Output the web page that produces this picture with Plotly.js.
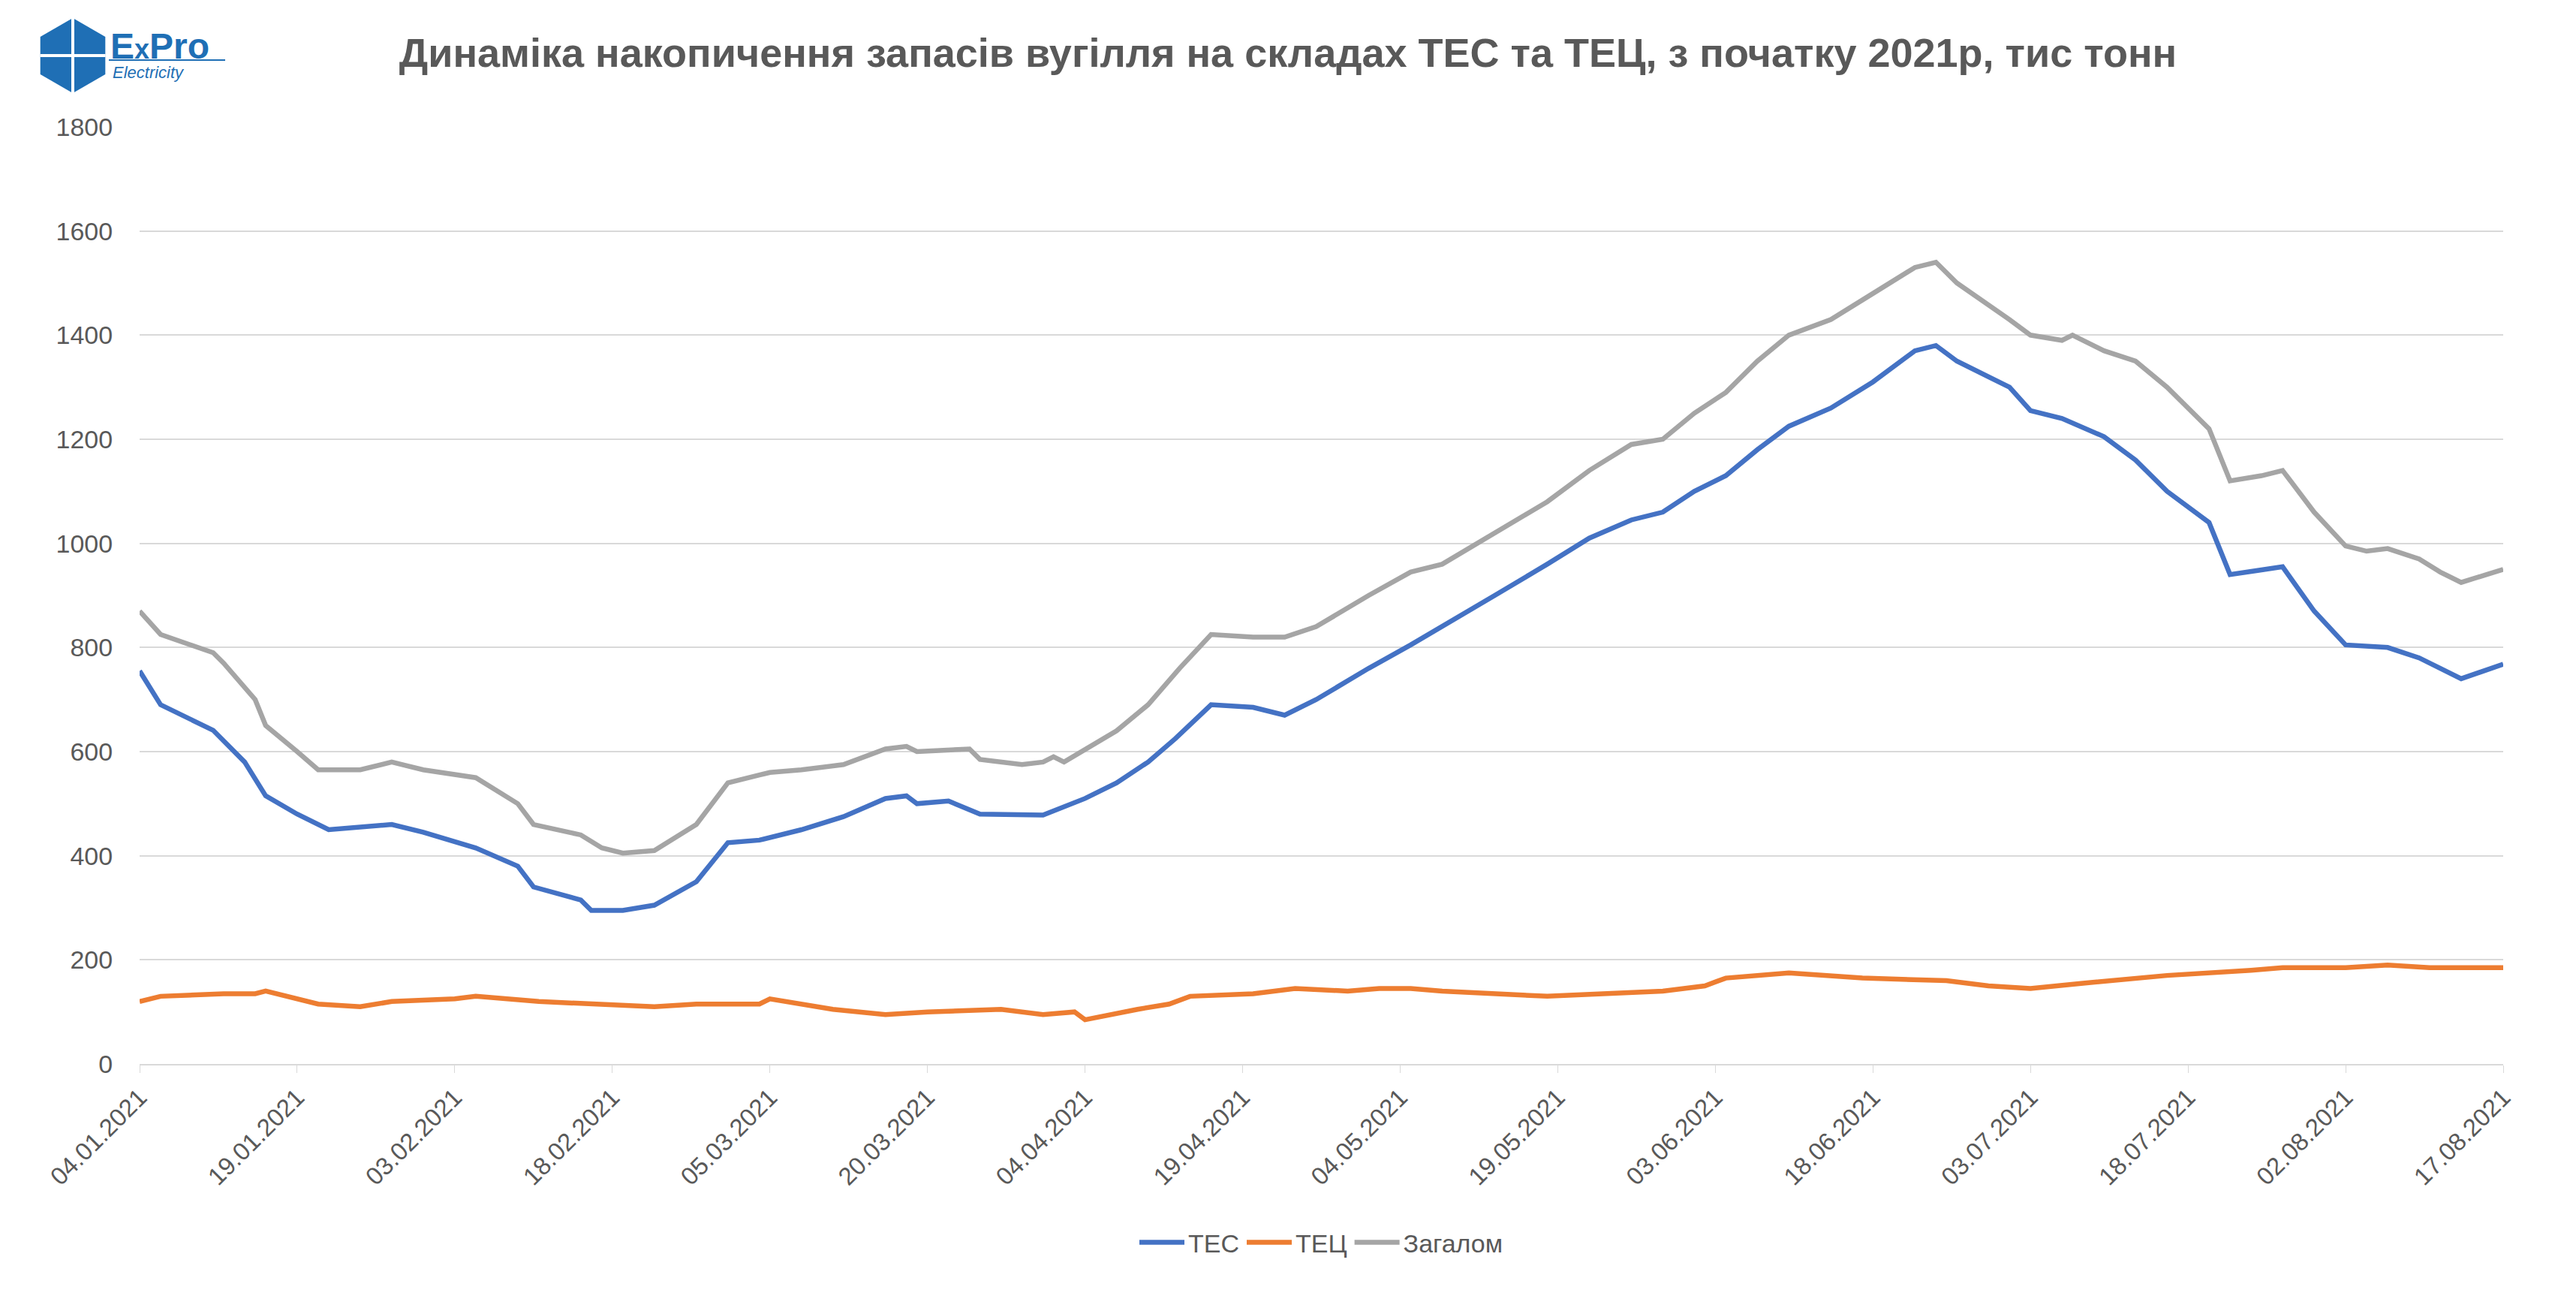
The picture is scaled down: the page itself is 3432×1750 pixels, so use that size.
<!DOCTYPE html>
<html><head><meta charset="utf-8">
<script src="https://cdn.plot.ly/plotly-3.0.1.min.js"></script>
<style>body{margin:0;background:#fff}#c{width:3432px;height:1750px}</style>
</head><body><div id="c"></div>
<script>
const startDate = '2021-01-04';
const tesDays = [0,2,7,10,12,15,18,21,24,27,32,36,37.5,42,43,46,49,53,56,59,63,67,71,73,74,77,80,86,90,93,96,98.6,102,106,109,112,117,121,124,129,134,138,142,145,148,151,154,157,161,165,169,171,173,178,180,183,187,190,193,197,199,202,204,207,210,214,217,221,225];
const tesVals = [755,690,641,580,515,480,450,455,460,445,415,380,340,315,295,295,305,350,425,430,450,475,510,515,500,505,480,478,510,540,580,625,690,685,670,700,760,805,840,900,960,1010,1045,1060,1100,1130,1180,1225,1260,1310,1370,1380,1350,1300,1255,1240,1205,1160,1100,1040,940,950,955,870,805,800,780,740,768];
const totDays = [0,2,7,8,11,12,15,17,21,24,27,32,36,37.5,42,44,46,49,53,56,59,60,63,67,71,73,74,79,80,84,86,87,88,93,96,99,102,106,109,112,117,121,124,129,134,138,142,145,148,151,154,157,161,165,169,171,173,178,180,183,184,187,190,193,197,199,202,204,207,210,212,214,217,219,221,225];
const totVals = [870,825,790,770,700,650,600,565,565,580,565,550,500,460,440,415,405,410,460,540,555,560,565,575,605,610,600,605,585,575,580,590,580,640,690,760,825,820,820,840,900,945,960,1020,1080,1140,1190,1200,1250,1290,1350,1400,1430,1480,1530,1540,1500,1430,1400,1390,1400,1370,1350,1300,1220,1120,1130,1140,1060,995,985,990,970,945,925,950];
const tecDays = [0,2,8,11,12,17,21,24,30,32,38,44,49,53,59,60,66,71,75,82,86,89,90,95,98,100,106,110,115,118,121,124,134,145,149,151,157,164,172,176,180,185,193,201,204,210,214,218,225];
const tecVals = [120,130,135,135,140,115,110,120,125,130,120,115,110,115,115,125,105,95,100,105,95,100,85,105,115,130,135,145,140,145,145,140,130,140,150,165,175,165,160,150,145,155,170,180,185,185,190,185,185];

function toDates(days){
  const base = new Date(startDate+'T00:00:00Z').getTime();
  return days.map(d => new Date(base + d*86400000).toISOString().slice(0,19).replace('T',' '));
}
const lw = 6.5;
const traces = [
 {x:toDates(tesDays), y:tesVals, name:'ТЕС', mode:'lines', line:{color:'#4472C4', width:lw}},
 {x:toDates(tecDays), y:tecVals, name:'ТЕЦ', mode:'lines', line:{color:'#ED7D31', width:lw}},
 {x:toDates(totDays), y:totVals, name:'Загалом', mode:'lines', line:{color:'#A5A5A5', width:lw}}
];
const f = 'Liberation Sans, Arial, sans-serif';
const pw = 3432-186-97, ph = 1750-169-333;
function px(x){return (x-186)/pw;} function py(y){return (1750-333-y)/ph;}
const layout = {
 width:3432, height:1750, paper_bgcolor:'#fff', plot_bgcolor:'#fff',
 margin:{l:186, r:97, t:169, b:333},
 font:{family:f, color:'#595959', size:34},
 title:{text:'<b>Динаміка накопичення запасів вугілля на складах ТЕС та ТЕЦ, з початку 2021р, тис тонн</b>', x:0.5, xanchor:'center', y:0.96, yanchor:'middle', font:{size:54, color:'#595959'}},
 xaxis:{type:'date', range:['2021-01-04','2021-08-17'], tick0:'2021-01-04', dtick:15*86400000, tickformat:'%d.%m.%Y', tickangle:-45, showgrid:false, showline:true, linecolor:'#d9d9d9', linewidth:2, ticks:'outside', ticklen:10, tickcolor:'#d9d9d9', tickfont:{size:33, color:'#595959'}},
 yaxis:{range:[0,1800], dtick:200, showgrid:true, gridcolor:'#d9d9d9', gridwidth:2, zeroline:false, showline:false, tickfont:{size:34,color:'#595959'}, ticklen:28, ticks:'outside', tickcolor:'rgba(0,0,0,0)'},
 legend:{orientation:'h', x:0.5, xanchor:'center', y:py(1655), yanchor:'middle', font:{size:34, color:'#595959'}, itemwidth:60},
 annotations:[
  {xref:'paper', yref:'paper', x:px(145), y:py(62), xanchor:'left', yanchor:'middle', showarrow:false, text:'<b>E<span style="font-size:36px">x</span>Pro</b>', font:{size:48, color:'#1F6FB5', family:f}},
  {xref:'paper', yref:'paper', x:px(148), y:py(96), xanchor:'left', yanchor:'middle', showarrow:false, text:'<i>Electricity</i>', font:{size:22, color:'#1F6FB5', family:f}}
 ]
};
const cx=97, cy=74, r=50;
let p='';
for(let i=0;i<6;i++){const a=Math.PI/3*i+Math.PI/6; p+=(i?'L':'M')+px(cx+r*Math.cos(a))+','+py(cy+r*Math.sin(a));}
p+='Z';
layout.shapes=[
 {type:'path', xref:'paper', yref:'paper', path:p, fillcolor:'#1F6FB5', line:{width:0}},
 {type:'line', xref:'paper', yref:'paper', x0:px(cx), x1:px(cx), y0:py(cy-r), y1:py(cy+r), line:{color:'#fff', width:4}},
 {type:'line', xref:'paper', yref:'paper', x0:px(cx-r*0.87), x1:px(cx+r*0.87), y0:py(cy), y1:py(cy), line:{color:'#fff', width:4}},
 {type:'line', xref:'paper', yref:'paper', x0:px(145), x1:px(300), y0:py(80), y1:py(80), line:{color:'#1F6FB5', width:2}}
];
Plotly.newPlot('c', traces, layout, {displayModeBar:false});
</script></body></html>
